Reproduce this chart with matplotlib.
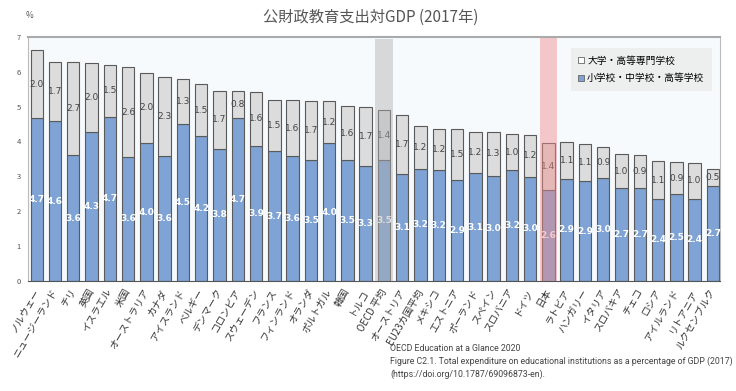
import numpy as np
import matplotlib.pyplot as plt
from matplotlib.patches import Patch
from matplotlib import font_manager

plt.rcParams['font.family'] = ['Noto Sans CJK JP', 'DejaVu Sans']

countries = ["ノルウェー", "ニュージーランド", "チリ", "英国", "イスラエル", "米国",
             "オーストラリア", "カナダ", "アイスランド", "ベルギー", "デンマーク", "コロンビア",
             "スウェーデン", "フランス", "フィンランド", "オランダ", "ポルトガル", "韓国",
             "トルコ", "OECD 平均", "オーストリア", "EU23カ国平均", "メキシコ", "エストニア",
             "ポーランド", "スペイン", "スロバニア", "ドイツ", "日本", "ラトビア",
             "ハンガリー", "イタリア", "スロバキア", "チェコ", "ロシア", "アイルランド",
             "リトアニア", "ルクセンブルク"]

# 小学校・中学校・高等学校 (% of GDP)
school = [4.66, 4.58, 3.60, 4.28, 4.71, 3.56, 3.96, 3.57, 4.51, 4.16, 3.79, 4.68,
          3.86, 3.72, 3.59, 3.47, 3.96, 3.46, 3.30, 3.46, 3.06, 3.22, 3.18, 2.89,
          3.09, 3.02, 3.18, 2.99, 2.61, 2.93, 2.86, 2.96, 2.67, 2.67, 2.36, 2.49,
          2.36, 2.72]
# 大学・高等専門学校 (% of GDP)
tertiary = [1.96, 1.71, 2.69, 1.96, 1.48, 2.56, 2.01, 2.29, 1.27, 1.48, 1.66, 0.76,
            1.57, 1.46, 1.59, 1.68, 1.19, 1.56, 1.68, 1.43, 1.69, 1.23, 1.18, 1.47,
            1.19, 1.26, 1.03, 1.20, 1.36, 1.06, 1.07, 0.88, 0.96, 0.94, 1.07, 0.92,
            1.03, 0.50]

blue = '#7fa3d4'
grey = '#dcdcdc'
edge = '#5a5a5a'

fig = plt.figure(figsize=(7.36, 3.91), dpi=100)
ax = fig.add_axes([0.038, 0.281, 0.94, 0.625])
ax.set_facecolor('#f6fafd')

x = np.arange(len(countries))
school = np.array(school)
tertiary = np.array(tertiary)
ax.bar(x, school, width=0.68, color=blue, edgecolor=edge, linewidth=0.8, zorder=2)
ax.bar(x, tertiary, bottom=school, width=0.68, color=grey, edgecolor=edge,
       linewidth=0.8, zorder=2)

for i in x:
    ax.text(i, school[i] / 2, f"{school[i]:.1f}", ha='center', va='center',
            fontsize=6.5, color='white', fontweight='bold', zorder=3,
            family='DejaVu Sans')
    ax.text(i, school[i] + tertiary[i] / 2, f"{tertiary[i]:.1f}", ha='center',
            va='center', fontsize=6.5, color='#444444', zorder=3,
            family='DejaVu Sans')

# highlight OECD average and Japan
i_oecd = countries.index("OECD 平均")
i_jp = countries.index("日本")
ax.axvspan(i_oecd - 0.48, i_oecd + 0.48, ymax=0.99, color='#b0b0b0', alpha=0.45,
           lw=0, zorder=4)
ax.axvspan(i_jp - 0.48, i_jp + 0.48, ymax=0.995, color='#f08a8a', alpha=0.45,
           lw=0, zorder=4)

ax.set_xlim(-0.48, len(countries) - 0.62)
ax.set_ylim(0, 7)
ax.set_yticks(range(8))
ax.tick_params(axis='y', length=0, labelsize=5.5, labelcolor='#555555', pad=5)
ax.tick_params(axis='x', length=0, pad=6)
ax.set_xticks(x)
ax.set_xticklabels(countries, rotation=60, ha='right', va='center',
                   rotation_mode='anchor', fontsize=7, color='#333333')

for s in ['left', 'right']:
    ax.spines[s].set_color('#bbbbbb')
    ax.spines[s].set_linewidth(0.8)
ax.spines['top'].set_color('#aaaaaa')
ax.spines['top'].set_linewidth(1.5)
ax.spines['bottom'].set_color('#555555')

fig.text(0.04, 0.955, "%", fontsize=6, color='#555555', ha='center')
fig.text(0.503, 0.955, "公財政教育支出対GDP (2017年)", ha='center', va='center',
         fontsize=11, color='#555555')

handles = [Patch(facecolor='white', edgecolor='#666666', linewidth=0.6),
           Patch(facecolor=blue, edgecolor='#666666', linewidth=0.6)]
leg = ax.legend(handles, ["大学・高等専門学校", "小学校・中学校・高等学校"],
                loc='upper right', bbox_to_anchor=(0.996, 0.975), fontsize=7,
                frameon=True, fancybox=False, handlelength=0.6, handleheight=0.6,
                handletextpad=0.3, labelspacing=0.8, borderpad=0.8)
leg.get_frame().set_facecolor('#ebebeb')
leg.get_frame().set_edgecolor('none')
leg.set_zorder(5)

# narrow font for the source note if there is one
src_font = 'Open Sans'
for name in ['Liberation Sans Narrow', 'Roboto', 'Open Sans']:
    try:
        font_manager.findfont(name, fallback_to_default=False)
        src_font = name
        break
    except Exception:
        pass

src = ("OECD Education at a Glance 2020\n"
       "Figure C2.1. Total expenditure on educational institutions as a percentage of GDP (2017)\n"
       "(https://doi.org/10.1787/69096873-en).")
note = fig.text(0.53, 0.03, src, fontsize=7, color='#444444', ha='left', va='bottom',
                linespacing=1.45, family=[src_font, 'DejaVu Sans'])

# shrink the note until it fits in the figure
fig.canvas.draw()
r = fig.canvas.get_renderer()
bb = note.get_window_extent(r)
limit = fig.bbox.width - 3
if bb.x1 > limit:
    note.set_fontsize(7 * (limit - bb.x0) / (bb.x1 - bb.x0))

fig.savefig("out.png", dpi=100)
